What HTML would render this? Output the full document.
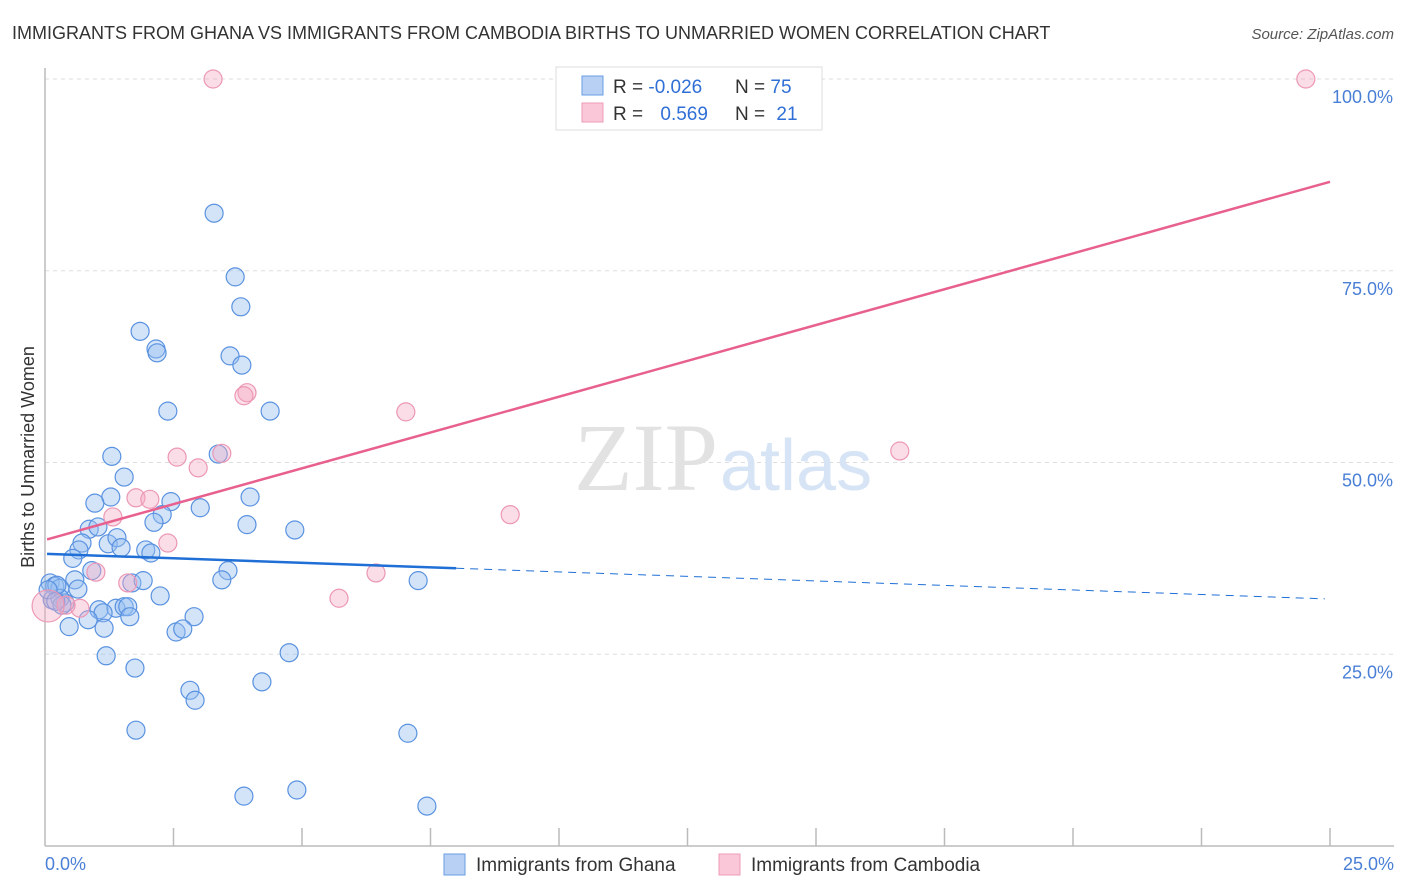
<!DOCTYPE html>
<html><head><meta charset="utf-8">
<style>
body{margin:0;background:#fff;font-family:"Liberation Sans",sans-serif;}
svg{display:block}
</style></head>
<body>
<svg id="chart" width="1406" height="892" xmlns="http://www.w3.org/2000/svg">
<text x="12" y="39" font-size="18" fill="#333">IMMIGRANTS FROM GHANA VS IMMIGRANTS FROM CAMBODIA BIRTHS TO UNMARRIED WOMEN CORRELATION CHART</text>
<text x="1394" y="39" font-size="15" fill="#555" font-style="italic" text-anchor="end">Source: ZipAtlas.com</text>
<g id="grid"></g>
<text x="718" y="490" font-size="96" fill="#e2e2e2" font-family="Liberation Serif,serif" text-anchor="end">ZIP</text>
<text x="720" y="490" font-size="72" fill="#d6e4f5" text-anchor="start">atlas</text>
<line x1="45" y1="68" x2="45" y2="846" stroke="#bbb" stroke-width="1.5"/>
<line x1="45" y1="846" x2="1394" y2="846" stroke="#bbb" stroke-width="1.5"/>
<g id="xticks"></g>
<g id="yticks"></g>
<text x="45" y="870" font-size="18" fill="#4a7fd6">0.0%</text>
<text x="1394" y="870" font-size="18" fill="#4a7fd6" text-anchor="end">25.0%</text>
<text transform="translate(34,457) rotate(-90)" font-size="18" fill="#333" text-anchor="middle">Births to Unmarried Women</text>
<g id="pts-blue"></g>
<g id="pts-pink"></g>
<g id="lines"></g>
<g>
<rect x="556" y="67" width="266" height="63" fill="#fff" stroke="#ddd"/>
<rect x="582" y="76" width="21" height="19" fill="#b7d0f3" stroke="#6a9ee6"/>
<rect x="582" y="103" width="21" height="19" fill="#f9c7d7" stroke="#ee9bb8"/>
<text x="613" y="93" font-size="19" fill="#333">R = <tspan fill="#2f6fd6">-0.026</tspan></text>
<text x="735" y="93" font-size="19" fill="#333">N = <tspan fill="#2f6fd6">75</tspan></text>
<text x="613" y="120" font-size="19" fill="#333">R = <tspan fill="#2f6fd6" dx="12">0.569</tspan></text>
<text x="735" y="120" font-size="19" fill="#333">N = <tspan fill="#2f6fd6" dx="6">21</tspan></text>
</g>
<g>
<rect x="444" y="854" width="21" height="21" fill="#b7d0f3" stroke="#6a9ee6"/>
<text x="476" y="871" font-size="19" fill="#333">Immigrants from Ghana</text>
<rect x="719" y="854" width="21" height="21" fill="#f9c7d7" stroke="#ee9bb8"/>
<text x="751" y="871" font-size="19" fill="#333">Immigrants from Cambodia</text>
</g>
</svg>
<script>
const yTicks=[25,50,75,100];
const yTickLabels=["25.0%","50.0%","75.0%","100.0%"];
const xTicks=[2.5,5,7.5,10,12.5,15,17.5,20,22.5,25];
const ghanaX=[3.29,3.70,3.81,1.85,2.16,2.18,3.60,3.83,2.39,4.38,1.30,3.37,1.54,1.28,0.97,2.45,3.99,3.02,2.28,2.12,0.86,1.03,3.93,4.86,0.72,1.23,1.40,1.48,0.66,1.96,2.06,0.54,3.56,0.91,0.58,1.69,1.91,3.44,7.26,0.10,0.19,0.29,0.64,2.24,0.14,0.39,0.29,1.05,1.38,1.54,1.61,1.13,1.65,2.90,0.84,0.47,1.15,2.55,2.68,4.75,1.19,1.75,2.82,2.92,4.22,1.77,7.06,3.87,4.90,7.43,0.23,0.06,0.33,0.21];
const ghanaY=[82.5,74.2,70.3,67.1,64.8,64.3,63.9,62.7,56.7,56.7,50.8,51.1,48.1,45.5,44.7,44.9,45.5,44.1,43.2,42.2,41.3,41.6,41.9,41.2,39.5,39.4,40.2,38.9,38.6,38.6,38.2,37.5,35.9,35.9,34.7,34.3,34.6,34.7,34.6,34.3,33.9,33.6,33.5,32.6,32.1,31.7,32.3,30.8,31.0,31.2,31.2,30.4,29.9,29.9,29.5,28.6,28.4,27.9,28.3,25.2,24.8,23.2,20.3,19.0,21.4,15.1,14.7,6.5,7.3,5.2,34.0,33.4,31.4,31.9];
const cambX=[3.27,24.53,3.93,3.87,7.02,3.44,2.57,2.98,16.63,1.77,2.04,1.32,2.39,9.05,0.99,6.44,1.61,5.72,0.68,0.41,0.06];
const cambY=[100,100,59.1,58.7,56.6,51.2,50.7,49.3,51.5,45.4,45.2,42.9,39.5,43.2,35.7,35.6,34.3,32.3,31.0,31.4,31.3];
const cambSize=[1,1,1,1,1,1,1,1,1,1,1,1,1,1,1,1,1,1,1,1,2];
const ghanaTrend=[38.1,-0.236]; // intercept, slope
const cambTrend=[39.9,1.868];
const ghanaSolidEnd=8.0;

const NS="http://www.w3.org/2000/svg";
const X=v=>45+v/25*1285;
const Y=v=>846-v/100*767;
function mk(tag,attrs,parent){const e=document.createElementNS(NS,tag);for(const k in attrs)e.setAttribute(k,attrs[k]);parent.appendChild(e);return e;}
const grid=document.getElementById('grid'),yt=document.getElementById('yticks'),xt=document.getElementById('xticks');
yTicks.forEach((t,i)=>{
 const l=mk('line',{x1:45,x2:1394,y1:Y(t),y2:Y(t),stroke:'#ddd','stroke-dasharray':'4,4'},grid);
 
 
 const tx=mk('text',{x:1393,y:Y(t)+24,'font-size':18,fill:'#4a7fd6','text-anchor':'end'},yt);
 tx.textContent=yTickLabels[i];
 
 
});
xTicks.forEach(t=>{
 const l=mk('line',{x1:X(t),x2:X(t),y1:828,y2:846,stroke:'#bbb','stroke-width':1.5},xt);
 
 
});
const gb=document.getElementById('pts-blue');
ghanaX.forEach((x,i)=>{
 const c=mk('circle',{cx:X(x),cy:Y(ghanaY[i]),r:9,fill:'rgba(150,190,240,0.42)',stroke:'#5a92e0','stroke-width':1.2},gb);
 
 
});
const gp=document.getElementById('pts-pink');
cambX.forEach((x,i)=>{
 const c=mk('circle',{cx:X(x),cy:Y(cambY[i]),r:cambSize[i]>1?16:9,fill:'rgba(246,170,196,0.4)',stroke:'#ec97b5','stroke-width':1.2},gp);
 
 
});
const lg=document.getElementById('lines');
const gy=x=>ghanaTrend[0]+ghanaTrend[1]*x, cy=x=>cambTrend[0]+cambTrend[1]*x;
let l1=mk('line',{x1:X(0.04),y1:Y(gy(0.04)),x2:X(ghanaSolidEnd),y2:Y(gy(ghanaSolidEnd)),stroke:'#1f6fd6','stroke-width':2.5},lg);


let l2=mk('line',{x1:X(ghanaSolidEnd),y1:Y(gy(ghanaSolidEnd)),x2:X(24.9),y2:Y(gy(24.9)),stroke:'#1f6fd6','stroke-width':1,'stroke-dasharray':'8,6'},lg);


let l3=mk('line',{x1:X(0.04),y1:Y(cy(0.04)),x2:X(25),y2:Y(cy(25)),stroke:'#e8608e','stroke-width':2.5},lg);


</script>
</body></html>
